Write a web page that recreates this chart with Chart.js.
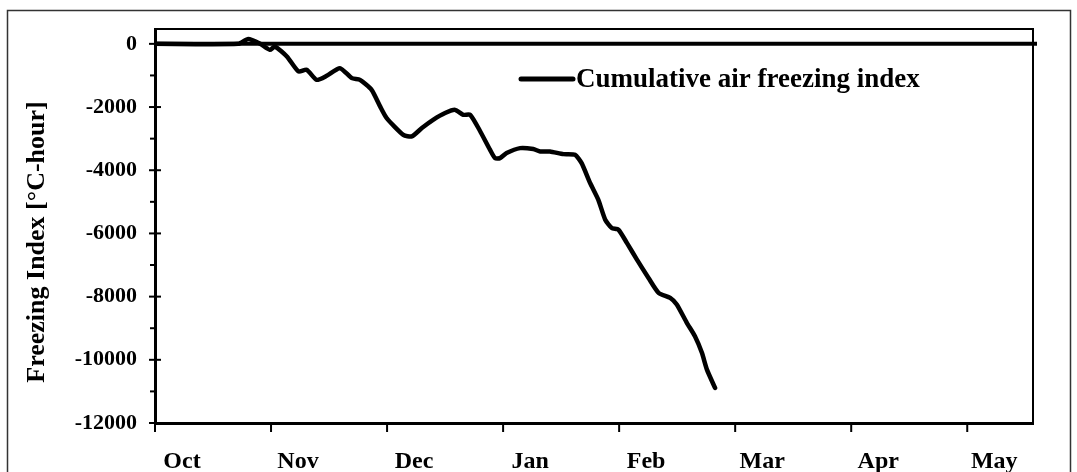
<!DOCTYPE html>
<html><head><meta charset="utf-8">
<script src="https://cdn.jsdelivr.net/npm/chart.js@4.4.0/dist/chart.umd.min.js"></script>
<style>html,body{margin:0;padding:0;background:#fff}#wrap{width:1077px;height:472px;position:relative}canvas{display:block}</style>
</head><body><div id="wrap"><canvas id="c" width="1077" height="472"></canvas></div>
<script>
// ---- data ----
const monthLabels = ['Oct','Nov','Dec','Jan','Feb','Mar','Apr','May'];
const monthTickDays = [0, 30, 60, 90, 120, 150, 180, 210];
const dayOffsets = [0, 21.5, 24.1, 27.2, 29.7, 31.0, 34.1, 37.1, 39.2, 41.8, 44.4, 47.8, 50.9, 53.0, 56.0, 58.2, 59.9, 64.2, 66.4, 69.0, 72.0, 75.0, 77.6, 79.7, 81.5, 84.0, 86.6, 87.9, 89.2, 90.9, 94.4, 97.8, 99.6, 102.1, 105.6, 108.6, 110.3, 112.5, 114.6, 116.4, 118.1, 119.8, 122.0, 124.6, 127.6, 130.2, 133.2, 134.9, 137.5, 139.6, 141.4, 142.7, 144.8];
const freezingIndex = [0, 0, 150, 0, -190, -85, -400, -875, -820, -1140, -1010, -770, -1085, -1140, -1455, -1980, -2350, -2880, -2930, -2665, -2400, -2190, -2090, -2245, -2245, -2750, -3350, -3615, -3615, -3455, -3300, -3330, -3405, -3405, -3490, -3510, -3775, -4405, -4930, -5565, -5830, -5880, -6300, -6830, -7410, -7880, -8040, -8250, -8830, -9255, -9780, -10310, -10890];
const yMajorTicks = [0, -2000, -4000, -6000, -8000, -10000, -12000];
const yMinorTicks = [-1000, -3000, -5000, -7000, -9000, -11000];
const seriesLabel = 'Cumulative air freezing index';
const yTitle = 'Freezing Index [\u00B0C-hour]';

const FONT = '"Liberation Serif", "Times New Roman", serif';

const decor = {
  id: 'decor',
  beforeDraw(chart) {
    const ctx = chart.ctx;
    ctx.save();
    ctx.fillStyle = '#fff';
    ctx.fillRect(0, 0, chart.width, chart.height);
    ctx.strokeStyle = '#333';
    ctx.lineWidth = 1.5;
    ctx.beginPath();
    ctx.moveTo(7.5, 500); ctx.lineTo(7.5, 10.5); ctx.lineTo(1070.5, 10.5); ctx.lineTo(1070.5, 500);
    ctx.stroke();
    ctx.restore();
  },
  afterDatasetsDraw(chart) {
    const ctx = chart.ctx;
    const a = chart.chartArea;
    const xs = chart.scales.x, ys = chart.scales.y;
    ctx.save();
    ctx.strokeStyle = '#000';
    ctx.lineWidth = 2;
    ctx.beginPath();
    ctx.moveTo(a.left, a.top); ctx.lineTo(a.right, a.top); ctx.lineTo(a.right, a.bottom);
    ctx.stroke();
    const y0 = ys.getPixelForValue(0);
    ctx.lineWidth = 4;
    ctx.beginPath(); ctx.moveTo(a.left, y0); ctx.lineTo(a.right + 4, y0); ctx.stroke();
    ctx.lineWidth = 2;
    yMajorTicks.forEach(v => {
      const p = ys.getPixelForValue(v);
      ctx.beginPath(); ctx.moveTo(a.left - 6, p); ctx.lineTo(a.left + 6, p); ctx.stroke();
    });
    yMinorTicks.forEach(v => {
      const p = ys.getPixelForValue(v);
      ctx.beginPath(); ctx.moveTo(a.left - 5, p); ctx.lineTo(a.left, p); ctx.stroke();
    });
    monthTickDays.forEach(d => {
      const p = xs.getPixelForValue(d);
      ctx.beginPath(); ctx.moveTo(p, a.bottom); ctx.lineTo(p, a.bottom + 9); ctx.stroke();
    });
    ctx.lineWidth = 5;
    ctx.lineCap = 'round';
    ctx.beginPath(); ctx.moveTo(521, 79); ctx.lineTo(573, 79); ctx.stroke();
    ctx.fillStyle = '#000';
    ctx.font = 'bold 27px ' + FONT;
    ctx.textBaseline = 'middle';
    ctx.textAlign = 'left';
    ctx.fillText(chart.data.datasets[0].label, 576, 80);
    ctx.translate(37, 242);
    ctx.rotate(-Math.PI / 2);
    ctx.textAlign = 'center';
    ctx.font = 'bold 26px ' + FONT;
    ctx.fillText(yTitle, 0, 0);
    ctx.restore();
  }
};

new Chart(document.getElementById('c'), {
  type: 'line',
  data: {
    datasets: [{
      label: seriesLabel,
      data: dayOffsets.map((d, i) => ({x: d, y: freezingIndex[i]})),
      borderColor: '#000',
      borderWidth: 4.5,
      pointRadius: 0,
      tension: 0.2,
      borderCapStyle: 'round',
      borderJoinStyle: 'round',
      fill: false
    }]
  },
  options: {
    responsive: false,
    animation: false,
    devicePixelRatio: 1,
    layout: { padding: { left: 0, top: 29, right: 44, bottom: 0 } },
    plugins: { legend: { display: false }, tooltip: { enabled: false } },
    scales: {
      x: {
        type: 'linear', min: 0, max: 227,
        afterBuildTicks: s => { s.ticks = monthTickDays.map(v => ({value: v})); },
        afterFit: s => { s.height = 472 - 423; s.paddingLeft = 0; s.paddingRight = 0; },
        grid: { display: false },
        border: { display: true, width: 3, color: '#000' },
        ticks: {
          callback: (v, i) => monthLabels[i],
          labelOffset: 27, padding: 16, maxRotation: 0, autoSkip: false,
          color: '#000', font: { family: FONT, size: 24, weight: 'bold' }
        }
      },
      y: {
        type: 'linear', min: -12000, max: 470,
        afterBuildTicks: s => { s.ticks = yMajorTicks.map(v => ({value: v})); },
        afterFit: s => { s.width = 155; s.paddingTop = 0; s.paddingBottom = 0; },
        grid: { display: false },
        border: { display: true, width: 3, color: '#000' },
        ticks: {
          callback: v => String(v), padding: 10,
          color: '#000', font: { family: FONT, size: 22, weight: 'bold' }
        }
      }
    }
  },
  plugins: [decor]
});
</script></body></html>
